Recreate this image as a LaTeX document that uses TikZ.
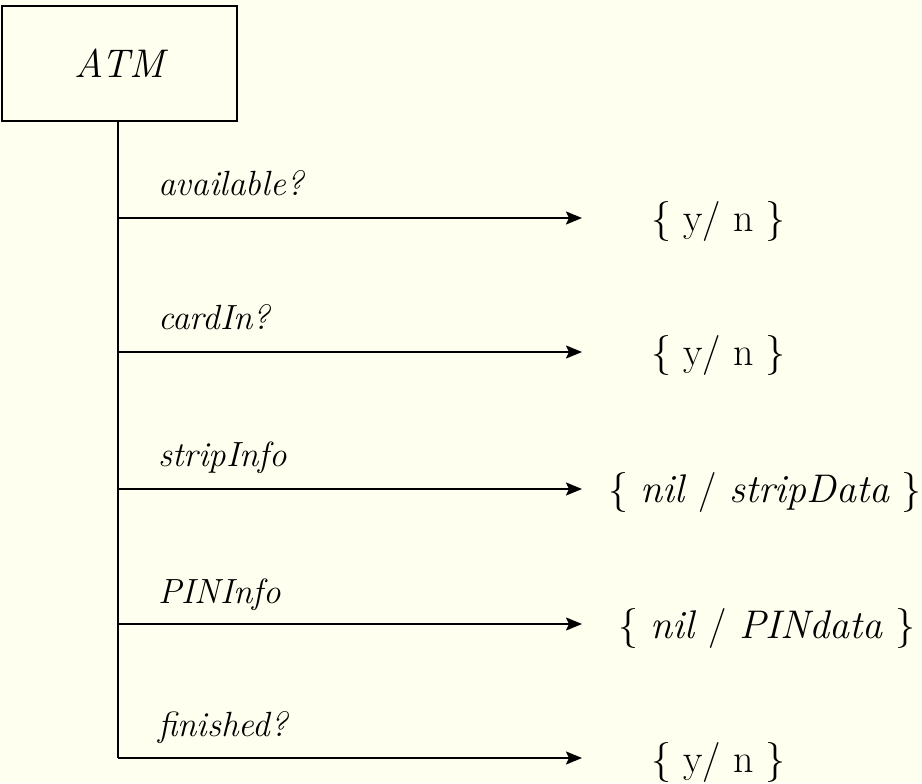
\documentclass[tikz,border=0pt]{standalone}
\usetikzlibrary{arrows.meta}
\definecolor{paper}{RGB}{255,255,240}
\tikzset{
  msg/.style={anchor=base west,inner sep=0pt,font=\fontsize{17.5}{21}\selectfont\itshape},
  reply/.style={anchor=west,inner sep=0pt},
  flow/.style={line width=1pt,-{Stealth[length=8pt,width=6.5pt,inset=1.5pt]}}
}
\begin{document}
\begin{tikzpicture}[x=0.5pt,y=0.5pt,font=\fontsize{20}{24}\selectfont]
  \fill[paper] (0,0) rectangle (922,783);
  \useasboundingbox (0,0) rectangle (922,783);

  %% the agent box, with its trunk running down the left
  \node[draw,line width=1pt,minimum width=117.5pt,minimum height=57.5pt,font=\fontsize{20}{24}\selectfont\itshape]
    (atm) at (119.5,719.5) {ATM};
  \coordinate (j1) at (118,565);
  \coordinate (j2) at (118,431);
  \coordinate (j3) at (118,294);
  \coordinate (j4) at (118,159);
  \coordinate (j5) at (118,25);
  \draw[line width=1pt] (atm.south -| j1) -- (j5);

  %% arrow ends
  \coordinate (e1) at (582,565);
  \coordinate (e2) at (582,431);
  \coordinate (e3) at (582,294);
  \coordinate (e4) at (582,159);
  \coordinate (e5) at (582,25);

  %% each branch: a message above the line, the reply after the tip
  \draw[flow] (j1) -- (e1);
  \node[msg] (m1) at (158,587) {available?};
  \node[reply] (r1) at (651,561) {\{ y/ n \}};

  \draw[flow] (j2) -- (e2);
  \node[msg] (m2) at (158,453) {cardIn?};
  \node[reply] (r2) at (651,427) {\{ y/ n \}};

  \draw[flow] (j3) -- (e3);
  \node[msg] (m3) at (158,316) {stripInfo};
  \node[reply] (r3) at (608,290) {\{ \textit{nil} / \textit{stripData} \}};

  \draw[flow] (j4) -- (e4);
  \node[msg] (m4) at (158,179) {PINInfo};
  \node[reply] (r4) at (618,155) {\{ \textit{nil} / \textit{PINdata} \}};

  \draw[flow] (j5) -- (e5);
  \node[msg] (m5) at (158,47) {finished?};
  \node[reply] (r5) at (651,21) {\{ y/ n \}};
\end{tikzpicture}
\end{document}
